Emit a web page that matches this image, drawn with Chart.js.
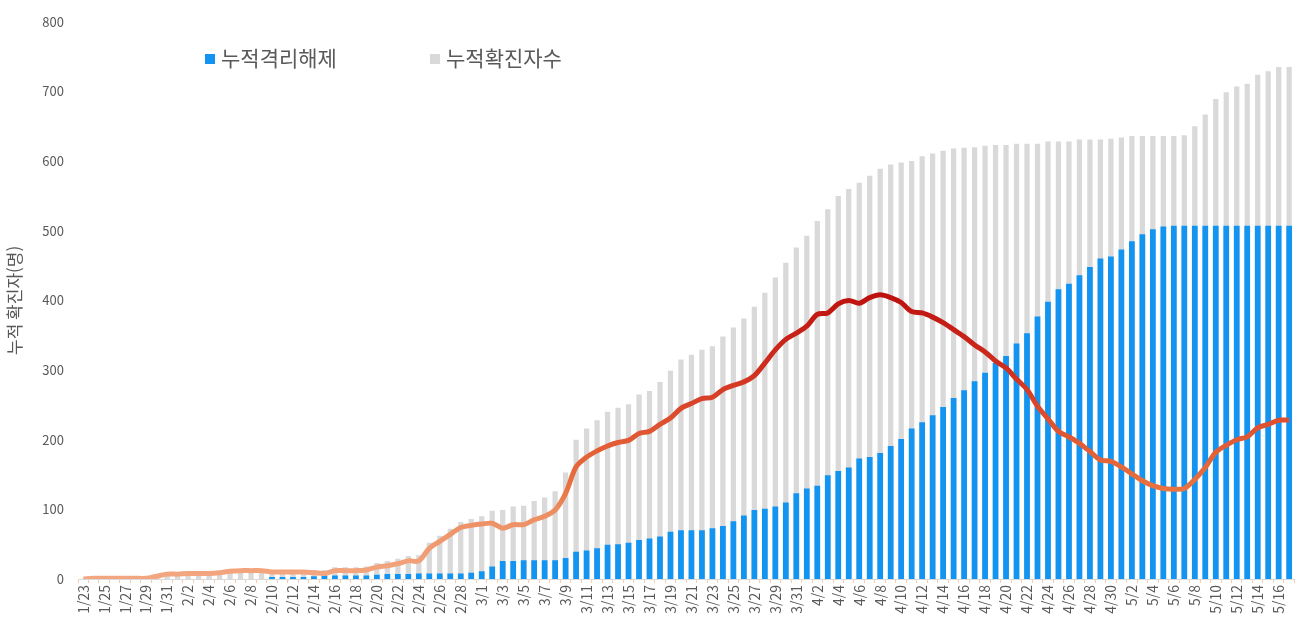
<!DOCTYPE html>
<html lang="ko">
<head>
<meta charset="utf-8">
<title>누적 확진자 현황</title>
<script src="https://cdn.jsdelivr.net/npm/chart.js@4.4.1/dist/chart.umd.min.js"></script>
<style>
  html, body { margin: 0; padding: 0; background: #ffffff; }
  #wrap { position: relative; width: 1308px; height: 627px; }
  .legend-item {
    position: absolute;
    top: 43px;
    font-family: "Noto Sans CJK KR", "Noto Sans", sans-serif;
    font-size: 21px;
    color: #595959;
    line-height: 28px;
    white-space: nowrap;
  }
  .legend-item span.box {
    display: inline-block;
    width: 10px;
    height: 10px;
    margin-right: 6px;
    vertical-align: 2px;
  }
</style>
</head>
<body>
<div id="wrap">
  <canvas id="covidChart" width="1308" height="627"></canvas>
  <div class="legend-item" style="left:205px"><span class="box" style="background:#1394F0"></span>누적격리해제</div>
  <div class="legend-item" style="left:430px"><span class="box" style="background:#D9D9D9"></span>누적확진자수</div>
</div>
<script>
// dates (1/23 ~ 5/17)
const dates = [
  "1/23","1/24","1/25","1/26","1/27","1/28","1/29","1/30","1/31",
  "2/1","2/2","2/3","2/4","2/5","2/6","2/7","2/8","2/9","2/10",
  "2/11","2/12","2/13","2/14","2/15","2/16","2/17","2/18","2/19","2/20",
  "2/21","2/22","2/23","2/24","2/25","2/26","2/27","2/28","2/29",
  "3/1","3/2","3/3","3/4","3/5","3/6","3/7","3/8","3/9","3/10",
  "3/11","3/12","3/13","3/14","3/15","3/16","3/17","3/18","3/19","3/20",
  "3/21","3/22","3/23","3/24","3/25","3/26","3/27","3/28","3/29","3/30","3/31",
  "4/1","4/2","4/3","4/4","4/5","4/6","4/7","4/8","4/9","4/10",
  "4/11","4/12","4/13","4/14","4/15","4/16","4/17","4/18","4/19","4/20",
  "4/21","4/22","4/23","4/24","4/25","4/26","4/27","4/28","4/29","4/30",
  "5/1","5/2","5/3","5/4","5/5","5/6","5/7","5/8","5/9","5/10",
  "5/11","5/12","5/13","5/14","5/15","5/16","5/17"
];

// 누적확진자수 (grey bars)
const confirmed = [
  0, 1, 1, 1, 1, 1, 1, 4, 7,
  7, 8, 8, 8, 9, 11, 12, 12, 12, 13,
  13, 13, 13, 13, 13, 17, 17, 17, 18, 23,
  26, 29, 33, 34, 52, 62, 72, 82, 86,
  90, 98, 99, 104, 105, 112, 117, 126, 153, 200,
  216, 228, 240, 246, 251, 265, 270, 283, 299, 315,
  322, 329, 334, 348, 361, 374, 391, 411, 433, 454, 476,
  493, 514, 531, 550, 560, 569, 579, 589, 595, 598,
  600, 607, 611, 615, 618, 619, 620, 622, 623, 623,
  625, 625, 625, 628, 628, 628, 631, 631, 631, 632,
  634, 636, 636, 636, 636, 636, 637, 650, 667, 689,
  699, 707, 711, 724, 729, 735, 735
];

// 누적격리해제 (blue bars)
const released = [
  0, 0, 0, 0, 0, 0, 0, 0, 0,
  0, 0, 0, 0, 0, 0, 0, 0, 0, 3,
  3, 3, 3, 4, 5, 5, 5, 5, 5, 6,
  7, 7, 7, 8, 8, 8, 8, 8, 9,
  11, 18, 26, 26, 27, 27, 27, 27, 30, 39,
  41, 44, 49, 50, 52, 56, 58, 61, 68, 70,
  70, 70, 73, 76, 83, 91, 99, 101, 104, 110, 123,
  130, 134, 149, 155, 160, 173, 175, 181, 191, 201,
  216, 225, 235, 247, 260, 271, 284, 296, 310, 320,
  338, 353, 377, 398, 416, 424, 436, 448, 460, 463,
  473, 485, 495, 502, 506, 507, 507, 507, 507, 507,
  507, 507, 507, 507, 507, 507, 507
];

// 격리중 (line)
const isolated = [
  0, 1, 1, 1, 1, 1, 1, 4, 7,
  7, 8, 8, 8, 9, 11, 12, 12, 12, 10,
  10, 10, 10, 9, 8, 12, 12, 12, 13, 17,
  19, 22, 26, 26, 44, 54, 64, 74, 77,
  79, 80, 73, 78, 78, 85, 90, 99, 123, 161,
  175, 184, 191, 196, 199, 209, 212, 222, 231, 245,
  252, 259, 261, 272, 278, 283, 292, 310, 329, 344, 353,
  363, 380, 382, 395, 400, 396, 404, 408, 404, 397,
  384, 382, 376, 368, 358, 348, 336, 326, 313, 303,
  287, 272, 248, 230, 212, 204, 195, 183, 171, 169,
  161, 151, 141, 134, 130, 129, 130, 143, 160, 182,
  192, 200, 204, 217, 222, 228, 228
];

const yMax = 800;
const yStep = 100;
const fontFamily = '"Noto Sans CJK KR", "Noto Sans", sans-serif';
const textColor = "#595959";

// colour of the line shifts from salmon (low) to dark red (high)
function lineGradient(context) {
  const chart = context.chart;
  const { ctx, chartArea, scales } = chart;
  if (!chartArea) return "#E07040";
  const g = ctx.createLinearGradient(0, scales.y.getPixelForValue(0), 0, scales.y.getPixelForValue(420));
  g.addColorStop(0, "#F3A781");
  g.addColorStop(0.24, "#EC8C5F");
  g.addColorStop(0.31, "#E8733F");
  g.addColorStop(0.54, "#DE5030");
  g.addColorStop(0.71, "#D0301F");
  g.addColorStop(1, "#BC0E0E");
  return g;
}

const ctx = document.getElementById("covidChart").getContext("2d");

new Chart(ctx, {
  type: "bar",
  data: {
    labels: dates,
    datasets: [
      {
        type: "line",
        label: "격리중",
        data: isolated,
        borderColor: lineGradient,
        borderWidth: 5,
        pointRadius: 0,
        tension: 0.3,
        fill: false,
        order: 0
      },
      {
        label: "누적격리해제",
        data: released,
        backgroundColor: "#1394F0",
        barPercentage: 0.55,
        categoryPercentage: 1.0,
        order: 1
      },
      {
        label: "누적확진자수",
        data: confirmed,
        backgroundColor: "#D9D9D9",
        barPercentage: 0.5,
        categoryPercentage: 1.0,
        order: 2
      }
    ]
  },
  options: {
    responsive: false,
    animation: false,
    devicePixelRatio: 1,
    layout: { padding: { top: 20, right: 8, left: 4, bottom: 0 } },
    plugins: {
      legend: { display: false },
      tooltip: { enabled: false }
    },
    scales: {
      x: {
        stacked: true,
        border: { display: true, color: "#D9D9D9" },
        grid: { display: true, drawOnChartArea: false, drawTicks: true, tickLength: 4, color: "#F8CBAD" },
        ticks: {
          autoSkip: false,
          minRotation: 90,
          maxRotation: 90,
          padding: 2,
          color: textColor,
          font: { family: fontFamily, size: 14 },
          callback: function (value, index) {
            return index % 2 === 0 ? dates[index] : "";
          }
        },
        afterFit: function (scale) { scale.height = 48; }
      },
      y: {
        stacked: false,
        min: 0,
        max: yMax,
        border: { display: false },
        grid: { display: false, drawTicks: false },
        ticks: {
          stepSize: yStep,
          padding: 14,
          color: textColor,
          font: { family: fontFamily, size: 13 }
        },
        title: {
          display: true,
          text: "누적 확진자(명)",
          color: textColor,
          font: { family: fontFamily, size: 17 },
          padding: { top: 0, bottom: 0 }
        },
        afterFit: function (scale) { scale.width = 74; }
      }
    }
  }
});
</script>
</body>
</html>
